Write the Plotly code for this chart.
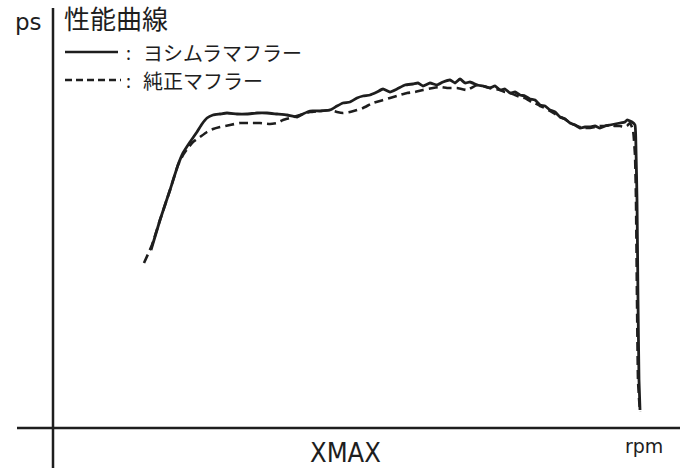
import plotly.graph_objects as go

# Curve data (rpm axis in arbitrary units from origin, ps in arbitrary units)
yoshimura_rpm = [98, 107, 117, 125, 130, 137, 144, 149, 154, 160, 167, 174, 184, 194, 204, 214, 224, 234, 244,
                 250, 257, 267, 277, 284, 290, 297, 304, 310, 317, 324, 330, 337, 344, 352, 360, 365, 370, 377,
                 384, 390, 397, 402, 407, 412, 417, 424, 430, 437, 442, 447, 452, 457, 462, 467, 472, 477, 482,
                 487, 492, 497, 502, 507, 512, 517, 522, 527, 532, 537, 542, 547, 552, 557, 562, 567, 572, 574,
                 579, 582, 583, 584, 585, 586, 587]
yoshimura_ps = [178, 208, 238, 263, 275, 286, 296, 304, 310, 313, 314, 315, 314, 314, 315, 315, 314, 313, 311,
                314, 317, 317, 318, 322, 325, 326, 330, 332, 333, 336, 339, 336, 339, 343, 344, 345, 342, 345,
                343, 346, 348, 345, 349, 345, 346, 343, 342, 340, 342, 338, 339, 335, 336, 333, 332, 329, 328,
                323, 322, 318, 316, 311, 309, 305, 303, 300, 301, 301, 302, 300, 302, 303, 304, 305, 306, 308,
                306, 303, 278, 228, 128, 48, 18]

stock_rpm = [91, 99, 107, 117, 125, 130, 135, 140, 147, 154, 160, 167, 177, 187, 197, 207, 217, 224, 230, 237,
             247, 257, 267, 277, 284, 290, 297, 304, 310, 320, 330, 337, 347, 354, 362, 370, 380, 387, 394, 404,
             414, 424, 430, 437, 442, 447, 452, 457, 462, 467, 472, 477, 482, 487, 492, 497, 502, 507, 512, 517,
             522, 527, 532, 537, 542, 547, 552, 557, 562, 567, 572, 574, 577, 580, 582, 583, 584, 585, 586, 587]
stock_ps = [165, 183, 208, 238, 263, 273, 280, 286, 291, 296, 299, 301, 303, 305, 305, 305, 304, 305, 308, 310,
            313, 316, 317, 318, 316, 315, 316, 318, 320, 325, 328, 330, 333, 335, 336, 338, 340, 341, 340, 340,
            338, 343, 342, 340, 339, 338, 336, 335, 333, 331, 330, 327, 325, 322, 320, 317, 314, 311, 309, 305,
            303, 301, 300, 300, 301, 302, 302, 303, 302, 302, 301, 302, 305, 298, 273, 228, 128, 48, 30, 16]

title_text = "性能曲線"
legend_labels = ["ヨシムラマフラー", "純正マフラー"]
x_label = "rpm"
y_label = "ps"
brand_label = "XMAX"

W, H = 680, 468
X0, Y0 = 53, 428  # pixel position of origin


def px(x):
    return x / W


def py(y):
    return 1 - y / H


INK = "#1e1e1e"

fig = go.Figure()
fig.add_trace(go.Scatter(x=yoshimura_rpm, y=yoshimura_ps, mode="lines",
                         line=dict(color=INK, width=2.8, shape="spline", smoothing=0.4),
                         hoverinfo="skip"))
fig.add_trace(go.Scatter(x=stock_rpm, y=stock_ps, mode="lines",
                         line=dict(color=INK, width=2.6, dash="9px,5px", shape="spline", smoothing=0.4),
                         hoverinfo="skip"))

shapes = [
    # axes
    dict(type="line", xref="paper", yref="paper", x0=px(X0), x1=px(X0), y0=py(8), y1=py(H),
         line=dict(color=INK, width=2.5)),
    dict(type="line", xref="paper", yref="paper", x0=px(17), x1=px(W), y0=py(Y0), y1=py(Y0),
         line=dict(color=INK, width=2.5)),
    # legend samples
    dict(type="line", xref="paper", yref="paper", x0=px(65), x1=px(118), y0=py(52), y1=py(52),
         line=dict(color=INK, width=2.5)),
    dict(type="line", xref="paper", yref="paper", x0=px(65), x1=px(121), y0=py(80), y1=py(80),
         line=dict(color=INK, width=2.5, dash="7px,4px")),
]

cjk = "Noto Sans CJK JP"
annotations = [
    dict(text=title_text, x=px(62), y=py(18), xanchor="left", yanchor="middle",
         font=dict(family=cjk, size=26, color=INK)),
    dict(text=":", x=px(124), y=py(52), xanchor="left", yanchor="middle",
         font=dict(family=cjk, size=18, color=INK)),
    dict(text=legend_labels[0], x=px(141), y=py(52), xanchor="left", yanchor="middle",
         font=dict(family=cjk, size=20, color=INK)),
    dict(text=":", x=px(124), y=py(80), xanchor="left", yanchor="middle",
         font=dict(family=cjk, size=18, color=INK)),
    dict(text=legend_labels[1], x=px(141), y=py(80), xanchor="left", yanchor="middle",
         font=dict(family=cjk, size=20, color=INK)),
    dict(text=y_label, x=px(28), y=py(22), xanchor="center", yanchor="middle",
         font=dict(family="DejaVu Sans", size=23, color=INK)),
    dict(text=x_label, x=px(644), y=py(446), xanchor="center", yanchor="middle",
         font=dict(family="DejaVu Sans", size=19, color=INK)),
    dict(text=brand_label, x=px(345), y=py(452), xanchor="center", yanchor="middle",
         font=dict(family="DejaVu Sans Condensed, Liberation Sans Narrow, Roboto, sans-serif",
                   size=27, color=INK)),
]
for a in annotations:
    a.update(xref="paper", yref="paper", showarrow=False)

fig.update_layout(
    width=W, height=H,
    margin=dict(l=0, r=0, t=0, b=0),
    paper_bgcolor="white", plot_bgcolor="white",
    showlegend=False,
    xaxis=dict(range=[-X0, W - X0], visible=False, fixedrange=True),
    yaxis=dict(range=[Y0 - H, Y0], visible=False, fixedrange=True),
    shapes=shapes,
    annotations=annotations,
)

fig.write_html("out.html", config={"displayModeBar": False},
               post_script="document.body.style.margin='0';document.body.style.overflow='hidden';")
